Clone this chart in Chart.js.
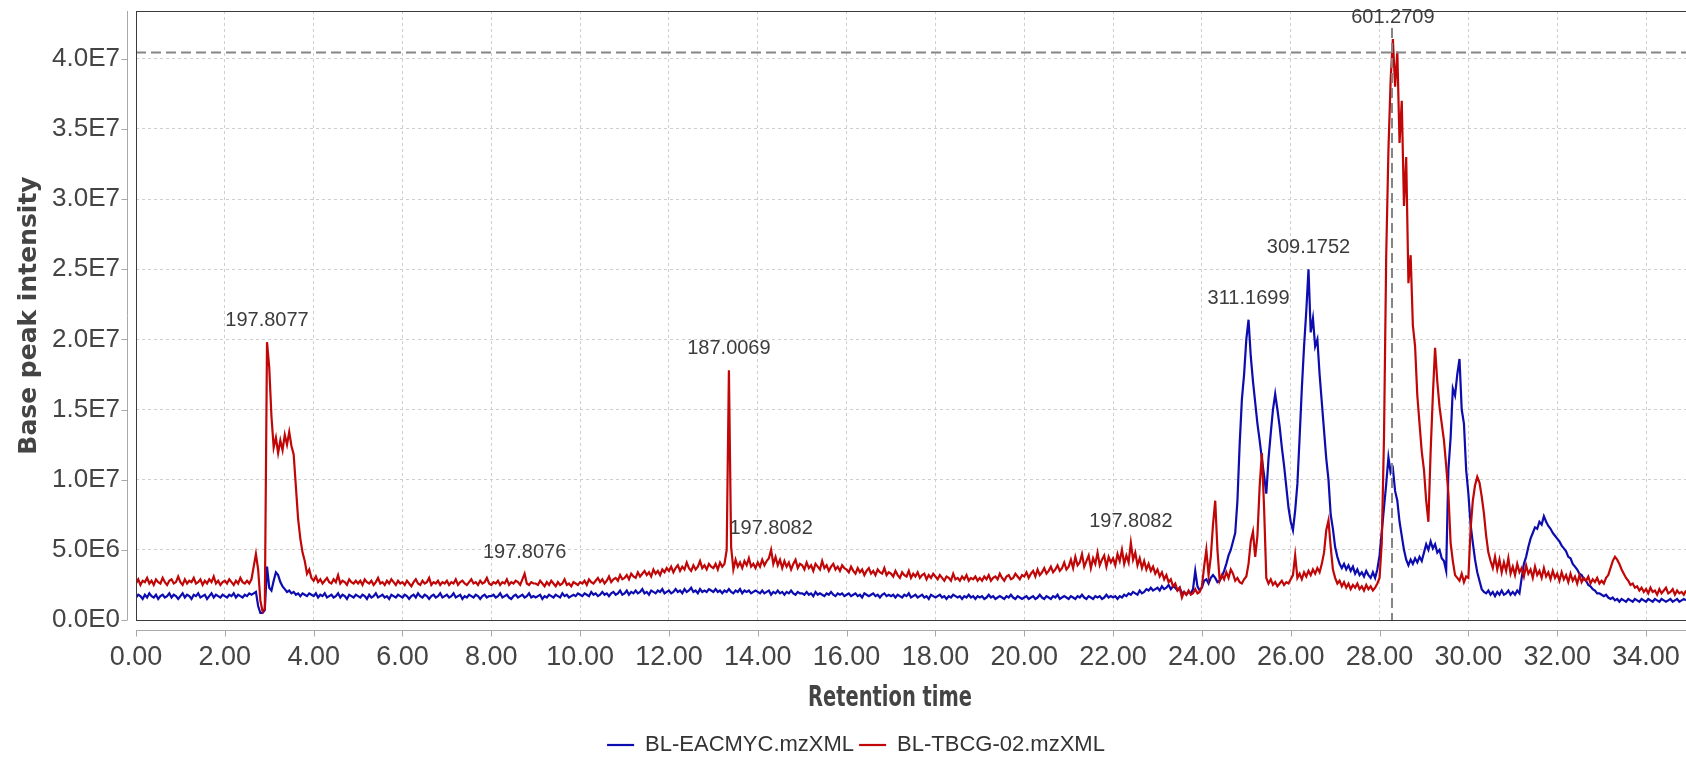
<!DOCTYPE html>
<html>
<head>
<meta charset="utf-8">
<script src="https://cdn.jsdelivr.net/npm/chart.js@4.4.1/dist/chart.umd.min.js"></script>
<style>
  html, body { margin: 0; padding: 0; background: #fff; }
  canvas { display: block; }
</style>
</head>
<body>
<canvas id="ticChart" width="1686" height="758"></canvas>
<script>
// retention time grid (min): one sample every 0.05 min, 0.00 .. 34.90
const timeStep = 0.05;

const seriesNames = ['BL-EACMYC.mzXML', 'BL-TBCG-02.mzXML'];
const seriesColors = ['#0c0cb0', '#c00606'];

// base peak intensity, in units of 1E6, one row per minute
const blueIntensity = [
    1.6, 1.8, 1.7, 1.5, 1.8, 1.6, 1.9, 1.7, 1.6, 1.8, 1.5, 1.7, 1.8, 1.6, 1.7, 1.9, 1.6, 1.8, 1.7, 1.5,
    1.7, 1.9, 1.6, 1.8, 1.7, 1.5, 1.8, 1.7, 1.9, 1.6, 1.7, 1.8, 1.5, 1.7, 1.9, 1.6, 1.8, 1.7, 1.6, 1.8,
    1.7, 1.6, 1.8, 1.7, 1.9, 1.6, 1.8, 1.7, 1.6, 1.8, 1.7, 1.9, 1.8, 1.9, 2.0, 1.0, 0.5, 0.5, 0.7, 3.8,
    2.3, 2.1, 2.8, 3.4, 3.2, 2.7, 2.4, 2.2, 2.0, 2.1, 1.9, 2.0, 1.8, 1.9, 1.7, 1.9, 1.8, 1.7, 1.9, 1.8,
    1.7, 1.9, 1.6, 1.8, 1.7, 1.9, 1.6, 1.7, 1.8, 1.6, 1.7, 1.9, 1.6, 1.8, 1.7, 1.5, 1.8, 1.7, 1.6, 1.8,
    1.7, 1.6, 1.8, 1.7, 1.5, 1.8, 1.6, 1.7, 1.9, 1.6, 1.7, 1.8, 1.6, 1.7, 1.5, 1.8, 1.7, 1.6, 1.8, 1.7,
    1.6, 1.8, 1.7, 1.5, 1.7, 1.8, 1.6, 1.9, 1.7, 1.6, 1.8, 1.7, 1.5, 1.7, 1.8, 1.6, 1.7, 1.9, 1.6, 1.7,
    1.8, 1.6, 1.7, 1.9, 1.6, 1.7, 1.8, 1.5, 1.7, 1.6, 1.8, 1.7, 1.6, 1.8, 1.7, 1.5, 1.7, 1.8, 1.6, 1.7,
    1.7, 1.8, 1.6, 1.7, 1.9, 1.6, 1.7, 1.8, 1.6, 1.5, 1.7, 1.8, 1.6, 1.7, 1.8, 1.6, 1.7, 1.9, 1.6, 1.7,
    1.6, 1.7, 1.8, 1.5, 1.7, 1.6, 1.8, 1.7, 1.6, 1.8, 1.7, 1.6, 1.9, 1.7, 1.8, 1.6, 1.7, 1.8, 1.7, 1.9,
    1.8, 1.7, 1.9, 1.8, 1.7, 2.0, 1.8, 1.9, 1.7, 1.8, 2.0, 1.8, 1.9, 1.7, 1.9, 2.0, 1.8, 1.9, 2.1, 1.8,
    1.9, 2.1, 1.8, 2.0, 1.9, 2.1, 1.9, 2.0, 2.2, 1.9, 2.0, 1.8, 2.1, 2.0, 1.9, 2.1, 2.0, 2.2, 1.9, 2.0,
    2.1, 1.9, 2.0, 2.2, 2.0, 2.1, 1.9, 2.2, 2.0, 2.1, 2.3, 2.0, 2.1, 1.9, 2.2, 2.0, 2.1, 2.0, 2.2, 2.1,
    2.0, 2.2, 2.0, 2.1, 1.9, 2.1, 2.0, 2.2, 2.0, 1.9, 2.1, 2.0, 2.2, 1.9, 2.1, 2.0, 2.1, 1.9, 2.0, 2.1,
    2.0, 1.9, 2.1, 1.9, 2.0, 2.1, 1.8, 2.0, 1.9, 2.1, 1.9, 2.0, 1.8, 2.0, 1.9, 2.1, 1.9, 1.8, 2.0, 1.9,
    1.9, 1.8, 2.0, 1.8, 1.9, 1.7, 2.0, 1.8, 1.9, 1.8, 1.7, 1.9, 1.8, 2.0, 1.8, 1.7, 1.9, 1.8, 1.9, 1.7,
    1.8, 1.9, 1.7, 1.8, 1.9, 1.7, 1.8, 1.6, 1.9, 1.8, 1.7, 1.8, 1.9, 1.7, 1.8, 1.6, 1.8, 1.9, 1.7, 1.8,
    1.7, 1.8, 1.6, 1.8, 1.7, 1.6, 1.8, 1.7, 1.9, 1.6, 1.7, 1.8, 1.6, 1.7, 1.8, 1.6, 1.7, 1.5, 1.8, 1.7,
    1.6, 1.7, 1.8, 1.6, 1.7, 1.5, 1.7, 1.6, 1.8, 1.7, 1.6, 1.7, 1.5, 1.7, 1.6, 1.8, 1.6, 1.7, 1.5, 1.7,
    1.6, 1.7, 1.5, 1.6, 1.8, 1.6, 1.7, 1.5, 1.6, 1.7, 1.6, 1.5, 1.7, 1.6, 1.8, 1.6, 1.5, 1.7, 1.6, 1.5,
    1.6, 1.7, 1.5, 1.6, 1.7, 1.5, 1.6, 1.8, 1.6, 1.5, 1.7, 1.6, 1.5, 1.7, 1.6, 1.8, 1.5, 1.6, 1.7, 1.6,
    1.5, 1.7, 1.6, 1.5, 1.7, 1.6, 1.8, 1.6, 1.5, 1.7, 1.6, 1.5, 1.7, 1.6, 1.7, 1.5, 1.6, 1.8, 1.6, 1.7,
    1.6, 1.7, 1.5, 1.7, 1.6, 1.8, 1.7, 1.9, 1.8, 2.0, 1.9, 1.8, 2.1, 1.9, 2.0, 2.2, 2.1, 2.3, 2.1, 2.2,
    2.3, 2.1, 2.4, 2.2, 2.3, 2.5, 2.2, 2.4, 2.3, 2.1, 2.3, 1.9, 2.0, 1.8, 2.0, 1.9, 2.2, 3.5, 2.4, 2.1,
    2.3, 2.8, 2.9, 2.6, 3.0, 3.2, 3.0, 2.7, 2.8, 3.1, 3.5, 4.0, 4.6, 5.0, 5.6, 6.2, 8.5, 12.5, 15.7, 17.5,
    20.0, 21.4, 18.8, 17.0, 15.5, 14.0, 12.8, 11.5, 10.3, 9.0, 11.5, 13.3, 15.0, 16.1, 15.0, 13.8, 12.3, 11.0, 9.5, 8.0,
    7.0, 6.4, 7.8, 9.7, 13.0, 16.5, 19.5, 22.0, 25.0, 20.5, 21.5, 19.5, 20.0, 17.5, 15.5, 13.5, 11.5, 10.0, 7.5, 6.5,
    5.2, 4.5, 4.0, 3.7, 4.0, 3.6, 3.9, 3.5, 3.8, 3.3, 3.6, 3.2, 3.4, 3.1, 3.5, 3.2, 3.0, 3.4, 3.0, 3.6,
    4.6, 6.3, 8.0, 9.7, 11.6, 10.5, 10.8, 9.2, 8.5, 7.0, 6.0, 5.0, 4.3, 3.9, 4.3, 4.0, 4.4, 4.1, 4.5, 4.2,
    4.8, 5.4, 5.0, 5.6, 5.1, 5.4, 4.8, 5.0, 4.4, 4.2, 3.5, 10.7, 13.0, 16.5, 16.0, 17.5, 18.6, 15.0, 14.0, 10.7,
    9.0, 6.8, 5.5, 4.3, 3.4, 2.8, 2.2, 2.0, 1.9, 2.1, 1.8, 2.0, 1.7, 2.0, 1.8, 2.1, 1.8, 1.9, 2.1, 1.8,
    2.0, 1.8, 2.1, 1.9, 3.0, 4.0, 4.5, 5.2, 5.8, 6.2, 6.6, 6.5, 7.0, 6.8, 7.4, 7.0, 6.7, 6.5, 6.2, 6.0,
    5.8, 5.6, 5.3, 5.1, 4.9, 4.5, 4.4, 4.0, 3.8, 3.6, 3.3, 3.2, 2.9, 2.8, 2.5, 2.4, 2.2, 2.1, 1.9, 1.9,
    1.8, 1.7, 1.8, 1.6, 1.5, 1.6, 1.4, 1.5, 1.3, 1.5, 1.4, 1.3, 1.5, 1.4, 1.3, 1.5, 1.4, 1.3, 1.5, 1.4,
    1.3, 1.5, 1.4, 1.3, 1.5, 1.4, 1.3, 1.5, 1.4, 1.3, 1.4, 1.5, 1.3, 1.4, 1.5, 1.3, 1.4, 1.5, 1.4
];

const redIntensity = [
    2.6, 2.9, 2.5, 2.8, 2.7, 3.0, 2.6, 2.8, 2.5, 2.9, 2.7, 2.6, 3.0, 2.7, 2.5, 2.8, 2.9, 2.6, 2.7, 3.1,
    2.7, 2.5, 2.9, 2.6, 2.8, 2.7, 3.0, 2.6, 2.7, 2.9, 2.5, 2.8, 2.6, 2.9, 2.7, 3.1, 2.6, 2.8, 2.5, 2.7,
    2.8, 2.6, 2.9, 2.7, 2.5, 2.8, 2.6, 3.0, 2.7, 2.6, 2.8, 2.6, 2.9, 3.8, 4.7, 3.6, 1.4, 0.6, 0.8, 19.8,
    18.0, 14.5, 12.3, 13.0, 11.9, 12.8, 12.1, 13.2, 12.5, 13.4, 12.4, 11.8, 9.5, 7.2, 5.8, 4.8, 4.2, 3.3, 3.6, 3.0,
    2.8, 3.1, 2.7, 2.9, 2.6, 2.8, 3.0, 2.7, 2.6, 2.9, 2.7, 3.2, 2.6, 2.8, 2.7, 2.5, 2.9, 2.7, 2.6, 2.8,
    2.6, 2.8, 2.5, 2.9, 2.7, 2.6, 2.8, 2.5, 2.7, 3.0, 2.6, 2.7, 2.5, 2.8, 2.6, 2.9, 2.7, 2.5, 2.8, 2.6,
    2.7, 2.5, 2.8, 2.6, 2.4, 2.7, 2.9, 2.6, 2.5, 2.8, 2.6, 2.7, 3.0, 2.5, 2.7, 2.6, 2.8, 2.5, 2.7, 2.6,
    2.8, 2.5, 2.7, 2.6, 2.9, 2.5, 2.7, 2.8, 2.6, 2.5, 2.7, 2.9, 2.6, 2.7, 2.5, 2.8, 2.6, 2.7, 3.0, 2.6,
    2.5, 2.7, 2.6, 2.8, 2.5, 2.7, 2.6, 2.9, 2.5, 2.7, 2.6, 2.8, 2.7, 2.5, 2.9, 3.3, 2.6, 2.5, 2.7, 2.6,
    2.6, 2.5, 2.8, 2.6, 2.4, 2.7, 2.5, 2.8, 2.6, 2.4, 2.7, 2.5, 2.6, 2.9, 2.5, 2.6, 2.4, 2.7, 2.6, 2.5,
    2.7, 2.6, 2.8, 2.5, 2.9, 2.7, 2.6, 2.8, 3.0, 2.7, 2.9, 2.6, 2.8, 3.1, 2.7, 2.9, 3.0, 2.8, 3.2, 2.9,
    3.0, 3.2, 2.9, 3.3, 3.1, 3.0, 3.4, 3.1, 3.3, 3.5, 3.2, 3.4, 3.1, 3.6, 3.3, 3.5, 3.2, 3.6, 3.4, 3.7,
    3.5, 3.8, 3.4, 3.7, 3.9, 3.5, 3.8, 3.6, 4.1, 3.7, 3.5, 3.9, 3.6, 3.8, 4.2, 3.7, 3.9, 3.6, 4.0, 3.8,
    3.7, 4.0, 3.6, 4.1, 3.8, 4.0, 5.0, 17.8, 5.2, 3.6, 4.3, 3.8, 4.1, 3.7, 4.2, 3.9, 4.4, 3.8, 4.0, 3.7,
    4.1, 3.8, 4.3, 3.9, 4.2, 4.4, 5.0, 4.0, 4.5, 3.9, 4.3, 3.7, 4.2, 3.8, 4.1, 3.6, 4.0, 4.3, 3.7, 4.0,
    3.9, 3.6, 4.1, 3.7, 3.9, 3.5, 4.0, 3.8, 3.6, 4.2, 3.7, 3.9, 3.5, 3.8, 4.0, 3.6, 3.8, 3.5, 3.9, 3.7,
    3.6, 3.4, 3.8, 3.5, 3.3, 3.7, 3.4, 3.6, 3.2, 3.5, 3.7, 3.3, 3.5, 3.2, 3.6, 3.4, 3.3, 3.7, 3.2, 3.4,
    3.3, 3.1, 3.5, 3.2, 3.0, 3.4, 3.2, 3.1, 3.5, 3.0, 3.3, 3.1, 3.4, 3.0, 3.2, 3.3, 2.9, 3.2, 3.0, 3.3,
    3.1, 2.9, 3.2, 3.0, 2.8, 3.1, 3.0, 2.8, 3.3, 2.9, 3.0, 2.8, 3.1, 2.9, 3.2, 2.8, 3.0, 2.9, 3.1, 2.8,
    3.0, 2.8, 3.1, 2.9, 3.2, 2.8, 3.0, 3.1, 2.9, 3.3, 3.0, 2.8, 3.1, 3.2, 2.9, 3.0, 3.3, 3.1, 2.9, 3.2,
    3.1, 3.4, 3.0, 3.3, 3.5, 3.1, 3.6, 3.2, 3.4, 3.7, 3.3, 3.5, 3.8, 3.4, 3.6, 3.9, 3.5, 3.7, 4.1, 3.6,
    3.8, 4.3, 3.7, 4.5, 3.9, 4.1, 4.7, 3.8, 4.2, 4.6, 3.7, 4.4, 4.0, 4.8, 3.9, 4.3, 4.6, 3.8, 4.5, 4.1,
    4.4, 3.9, 4.7, 4.2, 5.0, 4.0, 4.6, 4.1, 5.5, 4.3, 4.8, 3.9, 4.4, 3.7, 4.2, 3.6, 4.0, 3.5, 3.8, 3.3,
    3.6, 3.1, 3.4, 2.9, 3.2, 2.7, 2.9, 2.4, 2.6, 2.1, 2.3, 1.6, 2.0, 1.8, 2.1, 1.8, 1.9, 2.2, 1.9, 2.0,
    2.4, 3.8, 5.0, 3.2, 4.5, 6.8, 8.5, 5.0, 2.8, 3.2, 2.9, 3.4, 3.0, 3.6, 3.3, 2.8, 3.0, 2.7, 2.6, 2.9,
    3.1, 4.0, 5.6, 6.3, 4.5, 6.0, 9.5, 11.9, 8.0, 3.0, 2.6, 2.9, 2.5, 2.7, 2.4, 2.6, 2.8, 2.5, 2.7, 2.6,
    2.9, 3.2, 4.6, 3.0, 3.3, 2.9, 3.4, 3.1, 3.5, 3.2, 3.6, 3.3, 3.7, 3.4, 4.0, 4.8, 6.4, 7.1, 5.2, 3.6,
    3.0, 2.6, 2.8, 2.4, 2.7, 2.3, 2.6, 2.2, 2.5, 2.3, 2.6, 2.2, 2.4, 2.1, 2.5, 2.2, 2.4, 2.1, 2.3, 2.6,
    3.0, 5.5, 13.0, 26.0, 33.5, 38.5, 41.4, 38.0, 40.5, 34.0, 37.0, 29.5, 33.0, 24.0, 26.0, 21.0, 19.5, 16.0, 14.0, 12.0,
    10.7, 8.5, 7.0, 12.0, 16.0, 19.4, 17.0, 15.2, 14.0, 12.8, 11.0, 9.0, 5.5, 4.2, 3.2, 3.0, 2.8, 3.3, 2.7, 3.1,
    3.0, 6.5, 8.5, 9.6, 10.2, 9.8, 8.8, 7.6, 6.0, 4.8, 4.2, 3.7, 4.5, 3.6, 4.3, 3.4, 4.1, 3.5, 4.4, 3.3,
    3.8, 3.2, 4.0, 3.4, 3.7, 3.1, 3.9, 3.3, 3.6, 3.0, 3.8, 3.2, 3.5, 3.0, 3.7, 3.1, 3.4, 2.9, 3.5, 3.0,
    3.3, 2.8, 3.4, 2.9, 3.2, 2.7, 3.3, 2.8, 3.1, 2.6, 3.2, 2.7, 3.0, 2.8, 3.1, 2.6, 2.9, 2.7, 3.0, 2.6,
    2.8, 2.6, 3.0, 3.2, 3.7, 4.2, 4.5, 4.3, 4.0, 3.6, 3.3, 3.0, 2.8, 2.5, 2.6, 2.3, 2.4, 2.1, 2.3, 2.0,
    2.2, 1.9, 2.3, 2.0, 2.1, 1.8, 2.2, 1.9, 2.1, 2.3, 1.9, 2.0, 2.2, 1.8, 2.1, 1.9, 2.0, 1.8, 2.1
];

// peak m/z labels: text, retention time, intensity (1E6) of the labelled apex
const peakLabels = ['197.8077', '197.8076', '187.0069', '197.8082', '197.8082', '311.1699', '309.1752', '601.2709'];
const peakTimes = [2.95, 8.75, 13.35, 14.30, 22.40, 25.05, 26.40, 28.30];
const peakValues = [19.8, 3.3, 17.8, 5.0, 5.5, 21.4, 25.0, 41.4];

// selected point crosshair
const crosshairTime = 28.28;
const crosshairValue = 40.45;

// tick positions: minutes and intensity (1E6)
const xTickValues = [0, 2, 4, 6, 8, 10, 12, 14, 16, 18, 20, 22, 24, 26, 28, 30, 32, 34];
const yTickValues = [0, 5, 10, 15, 20, 25, 30, 35, 40];

const xTitle = 'Retention time';
const yTitle = 'Base peak intensity';

function toPoints(values) {
    return values.map((v, i) => ({ x: +(i * timeStep).toFixed(2), y: v }));
}

const tickFamily = "'Liberation Sans', Arial, sans-serif";

const chromatogramDecor = {
    id: 'chromatogramDecor',
    afterDatasetsDraw(chart) {
        const { ctx, chartArea: area, scales: { x, y } } = chart;
        ctx.save();

        // crosshair at the selected peak
        ctx.strokeStyle = '#858585';
        ctx.lineWidth = 2;
        ctx.setLineDash([10, 5]);
        const cy = y.getPixelForValue(crosshairValue);
        const cx = x.getPixelForValue(crosshairTime);
        ctx.beginPath();
        ctx.moveTo(area.left, cy);
        ctx.lineTo(area.right, cy);
        ctx.moveTo(cx, area.top + 17);
        ctx.lineTo(cx, area.bottom);
        ctx.stroke();
        ctx.setLineDash([]);

        // plot frame
        ctx.strokeStyle = '#3a3a3a';
        ctx.lineWidth = 1;
        ctx.strokeRect(area.left + 0.5, area.top + 0.5, area.right - area.left, area.bottom - area.top);

        // offset axis lines with outward tick marks
        ctx.strokeStyle = '#a8a8a8';
        ctx.beginPath();
        const axisX = area.left - 8.5;
        ctx.moveTo(axisX, area.top);
        ctx.lineTo(axisX, area.bottom);
        y.ticks.forEach(t => {
            const py = Math.round(y.getPixelForValue(t.value)) + 0.5;
            ctx.moveTo(axisX - 6, py);
            ctx.lineTo(axisX, py);
        });
        const axisY = area.bottom + 10.5;
        ctx.moveTo(area.left, axisY);
        ctx.lineTo(area.right, axisY);
        x.ticks.forEach(t => {
            const px = Math.round(x.getPixelForValue(t.value)) + 0.5;
            ctx.moveTo(px, axisY);
            ctx.lineTo(px, axisY + 6);
        });
        ctx.stroke();

        // peak labels
        ctx.fillStyle = '#3c3c3c';
        ctx.font = "20px 'Liberation Sans', Arial, sans-serif";
        ctx.textAlign = 'center';
        ctx.textBaseline = 'middle';
        peakLabels.forEach((text, i) => {
            const px = x.getPixelForValue(peakTimes[i]);
            const py = y.getPixelForValue(peakValues[i]);
            ctx.fillText(text, px, py - 21.5);
        });
        ctx.restore();
    },
    afterDraw(chart) {
        const { ctx, chartArea: area } = chart;
        ctx.save();
        ctx.fillStyle = '#444';
        ctx.textAlign = 'center';
        ctx.textBaseline = 'middle';

        // y title, rotated
        ctx.font = "bold 25px 'DejaVu Sans', sans-serif";
        ctx.save();
        ctx.translate(29, (area.top + area.bottom) / 2);
        ctx.rotate(-Math.PI / 2);
        ctx.fillText(yTitle, 0, 0);
        ctx.restore();

        // x title in a narrow bold face
        ctx.font = "bold 29px 'DejaVu Sans Condensed', 'DejaVu Sans', sans-serif";
        const squeeze = 164 / ctx.measureText(xTitle).width;
        ctx.translate(890, 698);
        ctx.scale(squeeze, 1);
        ctx.fillText(xTitle, 0, 0);
        ctx.restore();
    }
};

new Chart(document.getElementById('ticChart'), {
    type: 'line',
    data: {
        datasets: [{
            label: seriesNames[0],
            data: toPoints(blueIntensity),
            borderColor: seriesColors[0],
            backgroundColor: seriesColors[0],
            borderWidth: 2.2,
            pointRadius: 0,
            tension: 0,
            order: 1
        }, {
            label: seriesNames[1],
            data: toPoints(redIntensity),
            borderColor: seriesColors[1],
            backgroundColor: seriesColors[1],
            borderWidth: 2.2,
            pointRadius: 0,
            tension: 0,
            order: 0
        }]
    },
    options: {
        responsive: false,
        animation: false,
        events: [],
        parsing: false,
        layout: { padding: { top: 11, right: 0, bottom: -8, left: 26 } },
        plugins: {
            tooltip: { enabled: false },
            legend: {
                position: 'bottom',
                labels: {
                    usePointStyle: true,
                    pointStyle: 'line',
                    pointStyleWidth: 27,
                    padding: 5,
                    color: '#333',
                    font: { family: "'Liberation Sans', Arial, sans-serif", size: 22 },
                    sort: (a, b) => a.datasetIndex - b.datasetIndex
                }
            }
        },
        scales: {
            x: {
                type: 'linear',
                min: 0,
                max: 34.9,
                afterBuildTicks: scale => { scale.ticks = xTickValues.map(value => ({ value })); },
                afterFit: scale => { scale.height = 109; },
                grid: { color: '#cfcfcf', lineWidth: 1, drawTicks: true, tickLength: 24, tickColor: 'rgba(0,0,0,0)' },
                border: { display: false, dash: [3, 3] },
                ticks: {
                    autoSkip: false,
                    maxRotation: 0,
                    padding: 0,
                    color: '#444',
                    font: { family: tickFamily, size: 27, lineHeight: 1 },
                    callback: v => v.toFixed(2)
                }
            },
            y: {
                min: 0,
                max: 43.4,
                afterBuildTicks: scale => { scale.ticks = yTickValues.map(value => ({ value })); },
                afterFit: scale => { scale.width = 110; },
                grid: { color: '#cfcfcf', lineWidth: 1, drawTicks: true, tickLength: 16, tickColor: 'rgba(0,0,0,0)' },
                border: { display: false, dash: [3, 3] },
                ticks: {
                    padding: 0,
                    color: '#444',
                    font: { family: tickFamily, size: 26, lineHeight: 0.8 },
                    callback: v => (v * 1e6).toExponential(1).toUpperCase().replace('+', '')
                }
            }
        }
    },
    plugins: [chromatogramDecor]
});
</script>
</body>
</html>
